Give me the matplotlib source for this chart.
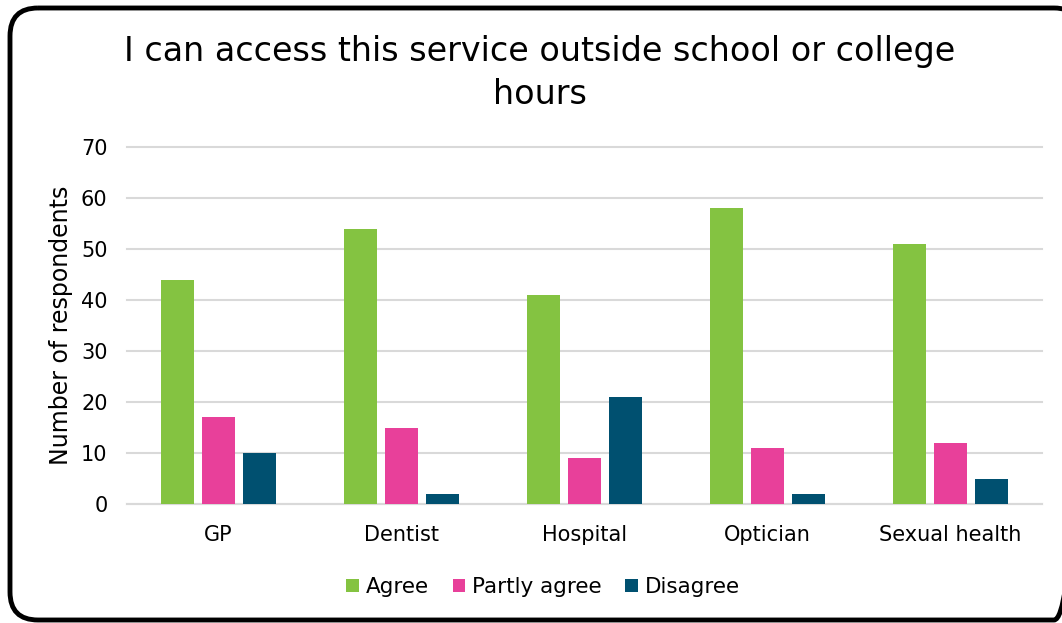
import matplotlib
matplotlib.use("Agg")
import matplotlib.pyplot as plt
import numpy as np
from matplotlib.patches import FancyBboxPatch

categories = ["GP", "Dentist", "Hospital", "Optician", "Sexual health"]
agree = [44, 54, 41, 58, 51]
partly = [17, 15, 9, 11, 12]
disagree = [10, 2, 21, 2, 5]
series_names = ["Agree", "Partly agree", "Disagree"]
colors = ["#84C341", "#E8409A", "#005070"]

plt.rcParams['font.family'] = ['DejaVu Sans']
W, H = 1062, 623
fig = plt.figure(figsize=(W/100, H/100), dpi=100)

# border in pixel coordinates
bg = fig.add_axes([0, 0, 1, 1])
bg.set_xlim(0, W)
bg.set_ylim(H, 0)
bg.axis('off')
bg.add_patch(FancyBboxPatch((10, 8), 1052 + 20, 612,
                            boxstyle="round,pad=0,rounding_size=28",
                            fill=False, edgecolor='black', linewidth=3.5))

ax = fig.add_axes([127/W, 1-504/H, 915/W, 357/H])

x = np.arange(len(categories))
w = 0.175
step = 0.224
for i, (vals, name, c) in enumerate(zip([agree, partly, disagree], series_names, colors)):
    ax.bar(x + (i-1)*step, vals, w, color=c, label=name, zorder=3)

ax.set_xlim(-0.5, len(categories)-0.5)
ax.set_ylim(0, 70)
ax.set_yticks(range(0, 71, 10))
ax.set_xticks(x)
ax.set_xticklabels(categories)
ax.grid(axis='y', color='#d9d9d9', linewidth=1.5, zorder=0)
for gl in ax.get_ygridlines():
    gl.set_clip_on(False)
for s in ['top', 'right', 'left']:
    ax.spines[s].set_visible(False)
ax.spines['bottom'].set_color('#d9d9d9')
ax.spines['bottom'].set_linewidth(1.5)
ax.tick_params(axis='both', length=0, labelsize=15, colors='#000000')
ax.tick_params(axis='y', pad=14)
ax.tick_params(axis='x', pad=15)
ax.set_ylabel("Number of respondents", fontsize=17, labelpad=6)

fig.text(540/W, 1-73/H, "I can access this service outside school or college\nhours",
         ha='center', va='center', fontsize=24, linespacing=1.42)

fig.legend(loc='center', bbox_to_anchor=(543/W, 1-587/H), ncol=3, frameon=False,
           fontsize=15.5, handlelength=0.6, handleheight=0.6, handletextpad=0.3, columnspacing=1.1)

fig.savefig("out.png", dpi=100)
